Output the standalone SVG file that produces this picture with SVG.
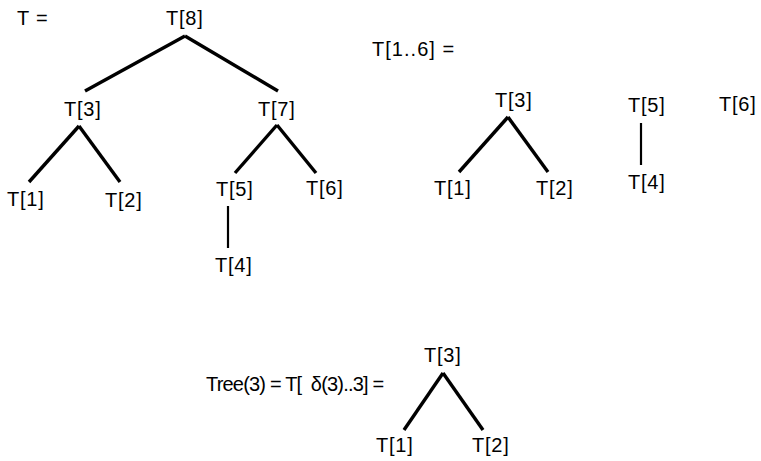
<svg xmlns="http://www.w3.org/2000/svg" width="761" height="461" viewBox="0 0 761 461">
  <style>
    text { font-family: "Liberation Sans", Arial, sans-serif; font-size: 20px; fill: #000; letter-spacing: 0.8px; }
    .edge { stroke: #000; stroke-width: 3.4; stroke-linecap: butt; fill: none; }
    .thin { stroke: #000; stroke-width: 2.2; fill: none; }
  </style>
  <rect width="761" height="461" fill="#fff"/>

  <g id="connectors">
    <!-- full tree T -->
    <line class="edge" x1="185" y1="36" x2="85" y2="91"/>
    <line class="edge" x1="185" y1="36" x2="278" y2="91"/>
    <line class="edge" x1="79" y1="126" x2="29" y2="182"/>
    <line class="edge" x1="79" y1="126" x2="120" y2="182"/>
    <line class="edge" x1="277" y1="125" x2="235" y2="173"/>
    <line class="edge" x1="277" y1="125" x2="316" y2="173"/>
    <line class="thin" x1="228" y1="206" x2="228" y2="248"/>
    <!-- forest T[1..6] -->
    <line class="edge" x1="508" y1="117" x2="459" y2="172"/>
    <line class="edge" x1="508" y1="117" x2="548" y2="172"/>
    <line class="thin" x1="641" y1="123" x2="641" y2="165"/>
    <!-- Tree(3) -->
    <line class="edge" x1="443" y1="373" x2="404" y2="430"/>
    <line class="edge" x1="443" y1="373" x2="483" y2="430"/>
  </g>

  <g id="label-T"><text x="17" y="25">T =</text></g>
  <g id="t8"><text x="166" y="25">T[8]</text></g>
  <g id="t3"><text x="64" y="116">T[3]</text></g>
  <g id="t7"><text x="258" y="116">T[7]</text></g>
  <g id="t1"><text x="7" y="206">T[1]</text></g>
  <g id="t2"><text x="105" y="207">T[2]</text></g>
  <g id="t5"><text x="216" y="196">T[5]</text></g>
  <g id="t6"><text x="306" y="195">T[6]</text></g>
  <g id="t4"><text x="215" y="272">T[4]</text></g>

  <g id="label-forest"><text x="372" y="56" textLength="83" lengthAdjust="spacing">T[1..6] =</text></g>
  <g id="f-t3"><text x="495" y="107">T[3]</text></g>
  <g id="f-t1"><text x="434" y="195">T[1]</text></g>
  <g id="f-t2"><text x="536" y="195">T[2]</text></g>
  <g id="f-t5"><text x="628" y="112">T[5]</text></g>
  <g id="f-t6"><text x="719" y="111">T[6]</text></g>
  <g id="f-t4"><text x="628" y="189">T[4]</text></g>

  <g id="label-tree3"><text x="206" y="391" textLength="179" lengthAdjust="spacing" xml:space="preserve">Tree(3) = T[  δ(3)..3] =</text></g>
  <g id="s-t3"><text x="424" y="362">T[3]</text></g>
  <g id="s-t1"><text x="376" y="452">T[1]</text></g>
  <g id="s-t2"><text x="472" y="452">T[2]</text></g>
</svg>
